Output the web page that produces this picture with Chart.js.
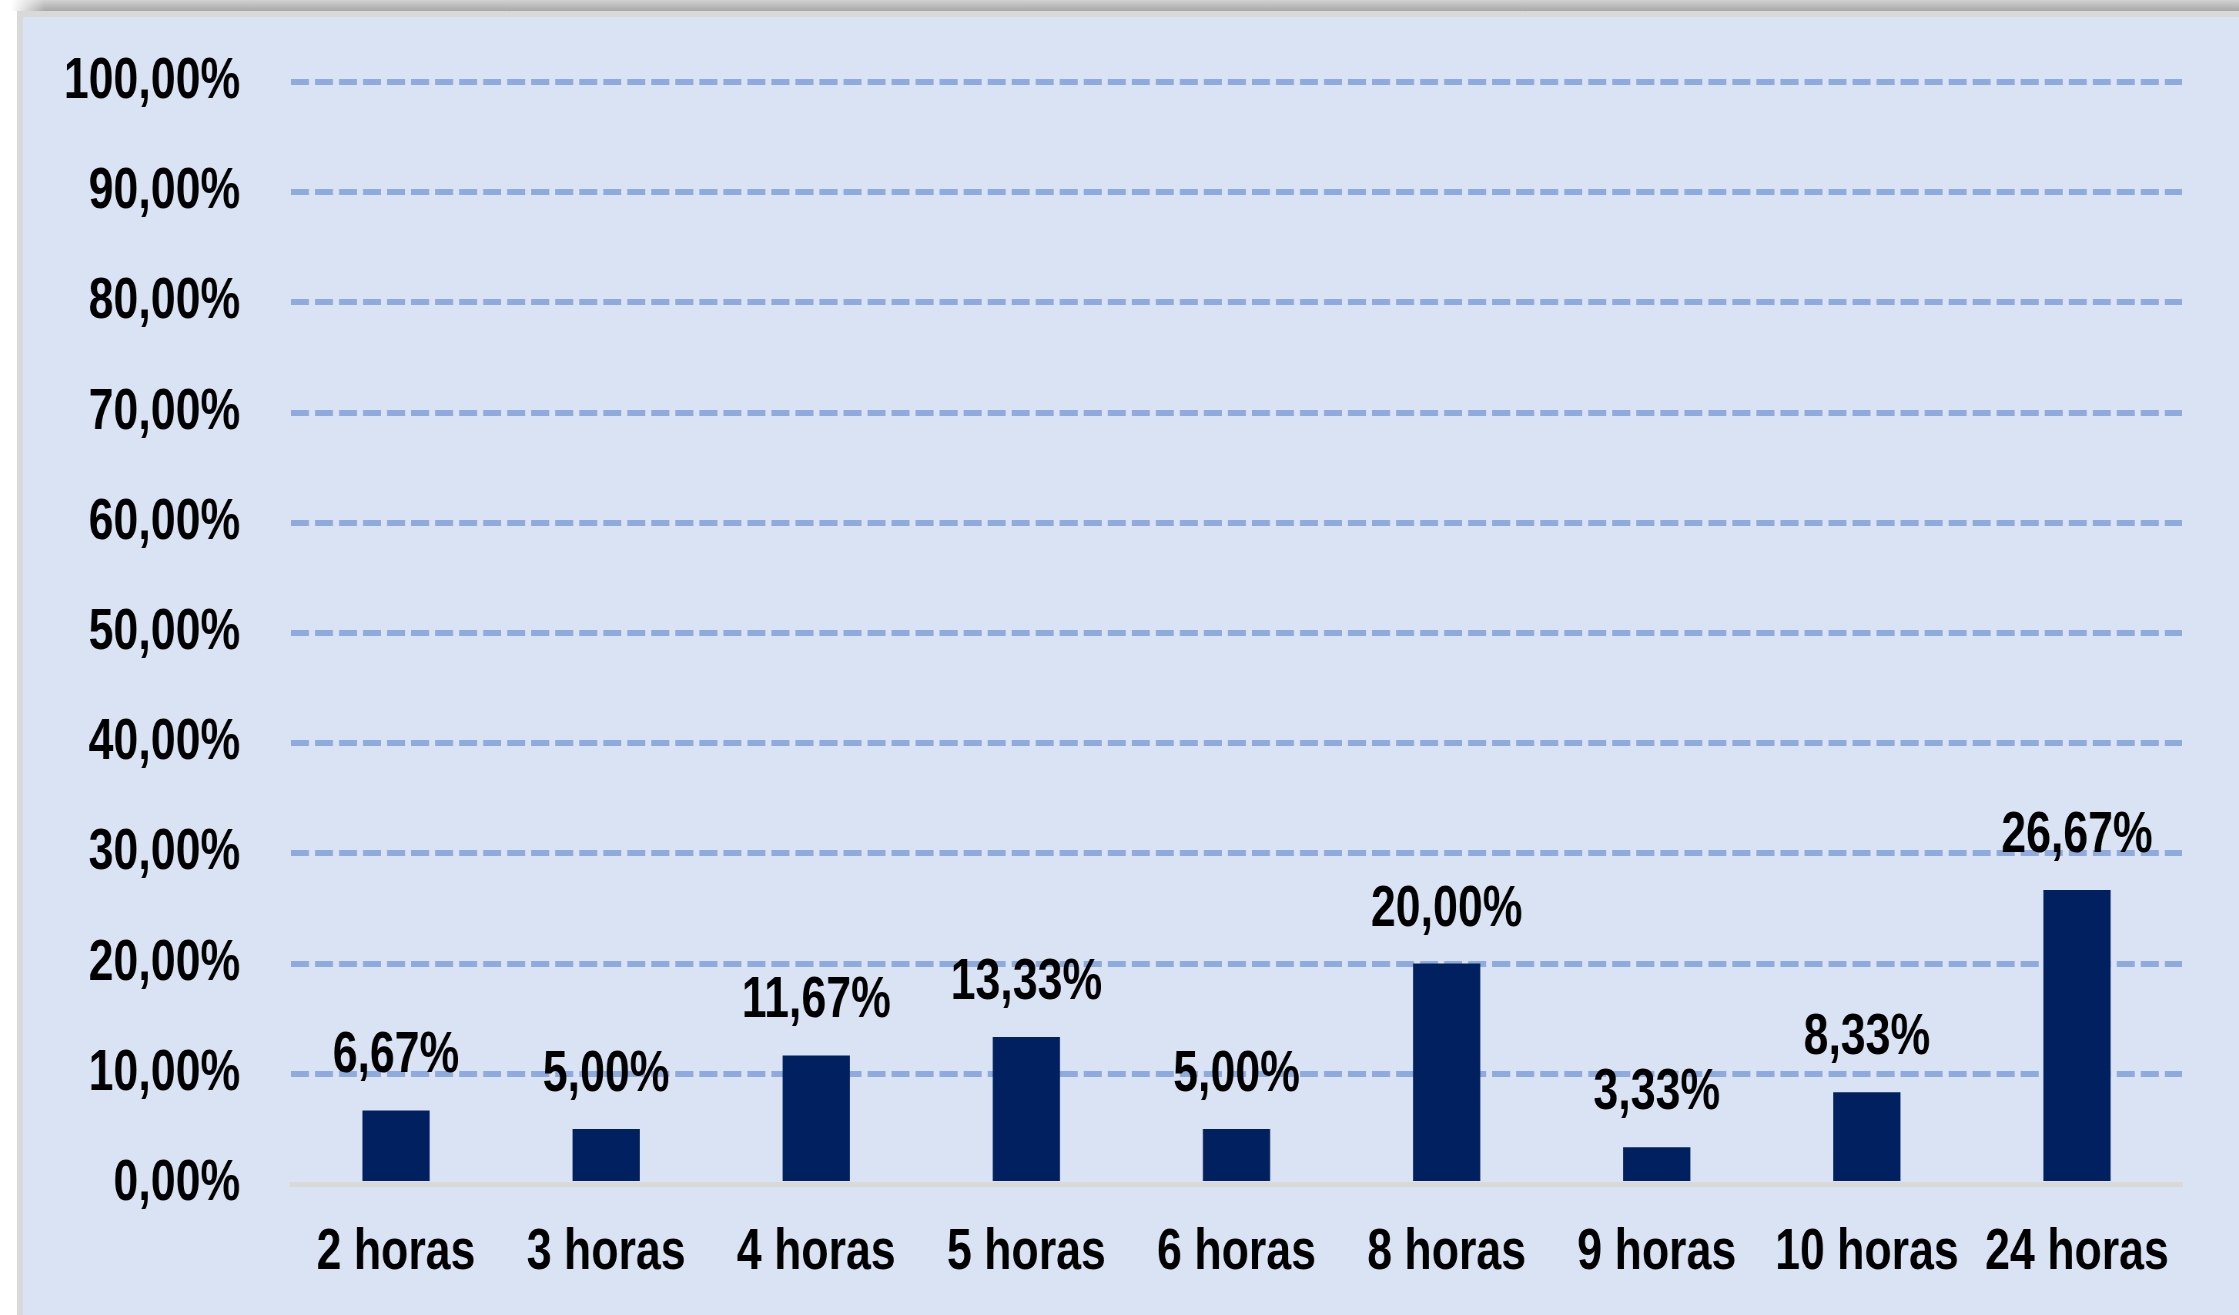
<!DOCTYPE html>
<html>
<head>
<meta charset="utf-8">
<script src="https://cdn.jsdelivr.net/npm/chart.js@4.4.1/dist/chart.umd.min.js"></script>
<style>
  html, body { margin: 0; padding: 0; background: #fff; width: 2239px; height: 1315px; overflow: hidden; }
  .topbar { position: absolute; left: 0; top: 0; width: 2239px; height: 11px;
    background: linear-gradient(#d2d2d2, #a8a8a8); }
  .topfade { position: absolute; left: 0; top: 0; width: 45px; height: 11px;
    background: linear-gradient(to right, #fff 25%, rgba(255,255,255,0)); }
  .frame { position: absolute; left: 17px; top: 11px; width: 2222px; height: 1304px; background: #d9d9d9; }
  /* fonte estreita (Arial Narrow) simulada: canvas mais largo comprimido em X */
  #chart { position: absolute; left: 23px; top: 17px; background: #DAE3F3;
    transform: scaleX(0.77); transform-origin: 0 0; }
</style>
</head>
<body>
<div class="topbar"></div>
<div class="topfade"></div>
<div class="frame"></div>
<canvas id="chart" width="2878" height="1298"></canvas>
<script>
// dados
const categorias = ['2 horas', '3 horas', '4 horas', '5 horas', '6 horas', '8 horas', '9 horas', '10 horas', '24 horas'];
const percentuais = [6.67, 5.00, 11.67, 13.33, 5.00, 20.00, 3.33, 8.33, 26.67];
const eixoY = [0, 10, 20, 30, 40, 50, 60, 70, 80, 90, 100];

const FONTE = "'Liberation Sans', Arial, sans-serif";
const TAM = 58;

function fmt(v) {
  return v.toFixed(2).replace('.', ',') + '%';
}

// rotulos acima das barras
const rotulosPlugin = {
  id: 'rotulos',
  afterDatasetsDraw(chart) {
    const ctx = chart.ctx;
    const meta = chart.getDatasetMeta(0);
    ctx.save();
    ctx.font = 'bold ' + TAM + 'px ' + FONTE;
    ctx.fillStyle = '#000';
    ctx.textAlign = 'center';
    ctx.textBaseline = 'alphabetic';
    meta.data.forEach((bar, i) => {
      ctx.fillText(fmt(percentuais[i]), bar.x, bar.y - 38);
    });
    ctx.restore();
  }
};

new Chart(document.getElementById('chart').getContext('2d'), {
  type: 'bar',
  data: {
    labels: categorias,
    datasets: [{
      data: percentuais,
      backgroundColor: '#002060',
      barPercentage: 0.32,
      categoryPercentage: 1
    }]
  },
  options: {
    responsive: false,
    animation: false,
    layout: { padding: { top: 65, right: 74, left: 0, bottom: 0 } },
    plugins: {
      legend: { display: false },
      tooltip: { enabled: false }
    },
    scales: {
      x: {
        grid: { display: false, drawTicks: false },
        border: { display: true, color: '#D9D9D9', width: 5 },
        ticks: {
          color: '#000',
          padding: 34,
          maxRotation: 0,
          autoSkip: false,
          font: { family: FONTE, size: TAM, weight: 'bold' }
        },
        afterFit(s) { s.height = 131; s.paddingLeft = 0; s.paddingRight = 0; }
      },
      y: {
        min: eixoY[0],
        max: eixoY[eixoY.length - 1],
        afterBuildTicks(s) { s.ticks = eixoY.map(v => ({ value: v })); },
        grid: {
          drawTicks: false,
          lineWidth: 6,
          color: (c) => (c.tick && c.tick.value === 0) ? 'rgba(0,0,0,0)' : '#8FAADC'
        },
        border: { display: false, dash: [23.4, 7.8] },
        ticks: {
          color: '#000',
          padding: 66,
          labelOffset: 0,
          font: { family: FONTE, size: TAM, weight: 'bold' },
          callback: (v) => fmt(v)
        },
        afterFit(s) { s.width = 348; s.paddingTop = 0; s.paddingBottom = 0; }
      }
    }
  },
  plugins: [rotulosPlugin]
});
</script>
</body>
</html>
